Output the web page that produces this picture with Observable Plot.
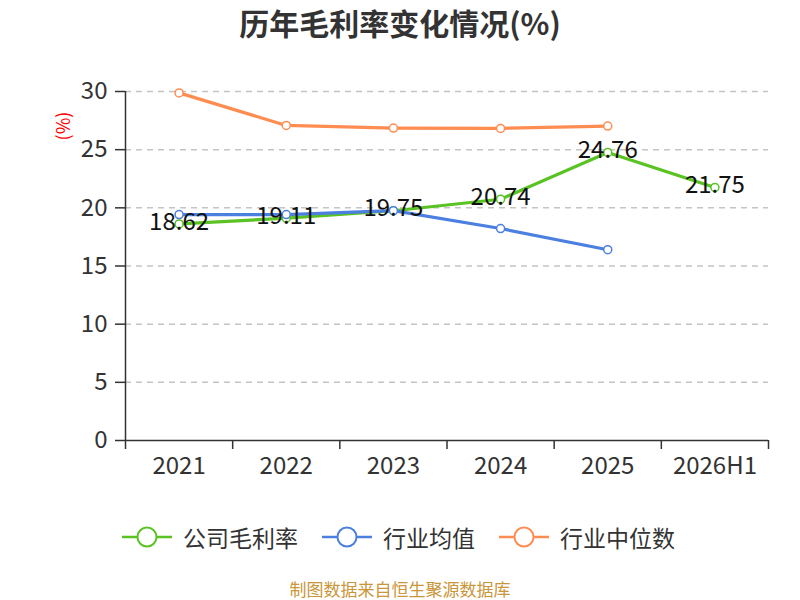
<!DOCTYPE html>
<html>
<head>
<meta charset="utf-8">
<script src="https://cdn.jsdelivr.net/npm/d3@7"></script>
<script src="https://cdn.jsdelivr.net/npm/@observablehq/plot@0.6"></script>
<style>
  html, body { margin: 0; padding: 0; background: #fff; }
  body { font-family: "Noto Sans CJK SC", "Noto Sans", sans-serif; }
  #wrap { position: relative; width: 800px; height: 600px; overflow: hidden; }
  #title { position: absolute; left: 0; top: 0; width: 800px; height: 44px; line-height: 44px; text-align: center; font-size: 30px; font-weight: bold; color: #333; }
  #chart { position: absolute; left: 0; top: 0; }
  #unit { position: absolute; left: 62px; top: 126px; line-height: 20px; transform: translate(-50%, -50%) rotate(-90deg); color: red; font-size: 18px; white-space: nowrap; }
  .item { position: absolute; top: 537px; transform: translateY(-50%); display: flex; align-items: center; font-size: 23px; line-height: 28px; color: #333; white-space: nowrap; }
  .item svg { margin-right: 11px; }
  #caption { position: absolute; left: 0; top: 579px; height: 20px; line-height: 20px; width: 800px; text-align: center; font-size: 17px; color: #c9963a; }
</style>
</head>
<body>
<div id="wrap">
  <div id="title">历年毛利率变化情况(%)</div>
  <div id="chart"></div>
  <div id="unit">(%)</div>
  <div id="legend"></div>
  <div id="caption">制图数据来自恒生聚源数据库</div>
</div>
<script>
const years = ["2021", "2022", "2023", "2024", "2025", "2026H1"];
const seriesNames = ["公司毛利率", "行业均值", "行业中位数"];
const seriesColors = ["#5ac323", "#4b7fe0", "#ff8d52"];
const companyMargin = [18.62, 19.11, 19.75, 20.74, 24.76, 21.75];
const industryMean = [19.42, 19.42, 19.76, 18.22, 16.40];
const industryMedian = [29.88, 27.08, 26.86, 26.83, 27.03];
const yTicks = [0, 5, 10, 15, 20, 25, 30];
const legendLefts = [122, 322, 499];

const seriesValues = [companyMargin, industryMean, industryMedian];
const data = seriesValues.flatMap((vals, s) =>
  vals.map((v, i) => ({ series: seriesNames[s], i, year: years[i], v }))
);
const company = data.filter(d => d.series === seriesNames[0]);
const boundaries = d3.range(-0.5, years.length, 1);

const plot = Plot.plot({
  width: 800,
  height: 490,
  marginTop: 91,
  marginBottom: 50,
  marginLeft: 125,
  marginRight: 32,
  style: { fontFamily: '"Noto Sans CJK SC", "Noto Sans", sans-serif', background: "transparent", fontSize: "24px" },
  x: { type: "linear", domain: [-0.5, years.length - 0.5] },
  y: { domain: [0, 30] },
  color: { domain: seriesNames, range: seriesColors },
  marks: [
    Plot.gridY(yTicks.filter(t => t > 0), { stroke: "#c4c4c4", strokeOpacity: 1, strokeWidth: 1.5, strokeDasharray: "6,5" }),
    Plot.axisY(yTicks, { tickSize: 10, tickPadding: 8, fontSize: 24, fill: "#333", stroke: "#333", strokeWidth: 1.5, label: null }),
    Plot.axisX(d3.range(years.length), { tickSize: 0, tickPadding: 16, fontSize: 24, fill: "#333", tickFormat: i => years[i], label: null }),
    Plot.axisX(boundaries, { tickSize: 9, stroke: "#333", strokeWidth: 1.5, tickFormat: () => "", label: null }),
    Plot.ruleY([0], { stroke: "#333", strokeWidth: 1.5 }),
    Plot.ruleX([-0.5], { stroke: "#333", strokeWidth: 1.5 }),
    Plot.line(data, { x: "i", y: "v", z: "series", stroke: "series", strokeWidth: 3.2 }),
    Plot.dot(data, { x: "i", y: "v", stroke: "series", fill: "white", r: 4, strokeWidth: 1.5 }),
    Plot.text(company, { x: "i", y: "v", text: d => d.v.toFixed(2), fontSize: 24, fill: "#111", dy: -2 })
  ]
});
document.getElementById("chart").appendChild(plot);

const legend = document.getElementById("legend");
seriesNames.forEach((name, k) => {
  const item = document.createElement("div");
  item.className = "item";
  item.style.left = legendLefts[k] + "px";
  const c = seriesColors[k];
  item.innerHTML = `<svg width="50" height="24"><line x1="0" x2="50" y1="12" y2="12" stroke="${c}" stroke-width="2.5"/><circle cx="25" cy="12" r="9.5" fill="white" stroke="${c}" stroke-width="2"/></svg><span>${name}</span>`;
  legend.appendChild(item);
});
</script>
</body>
</html>
